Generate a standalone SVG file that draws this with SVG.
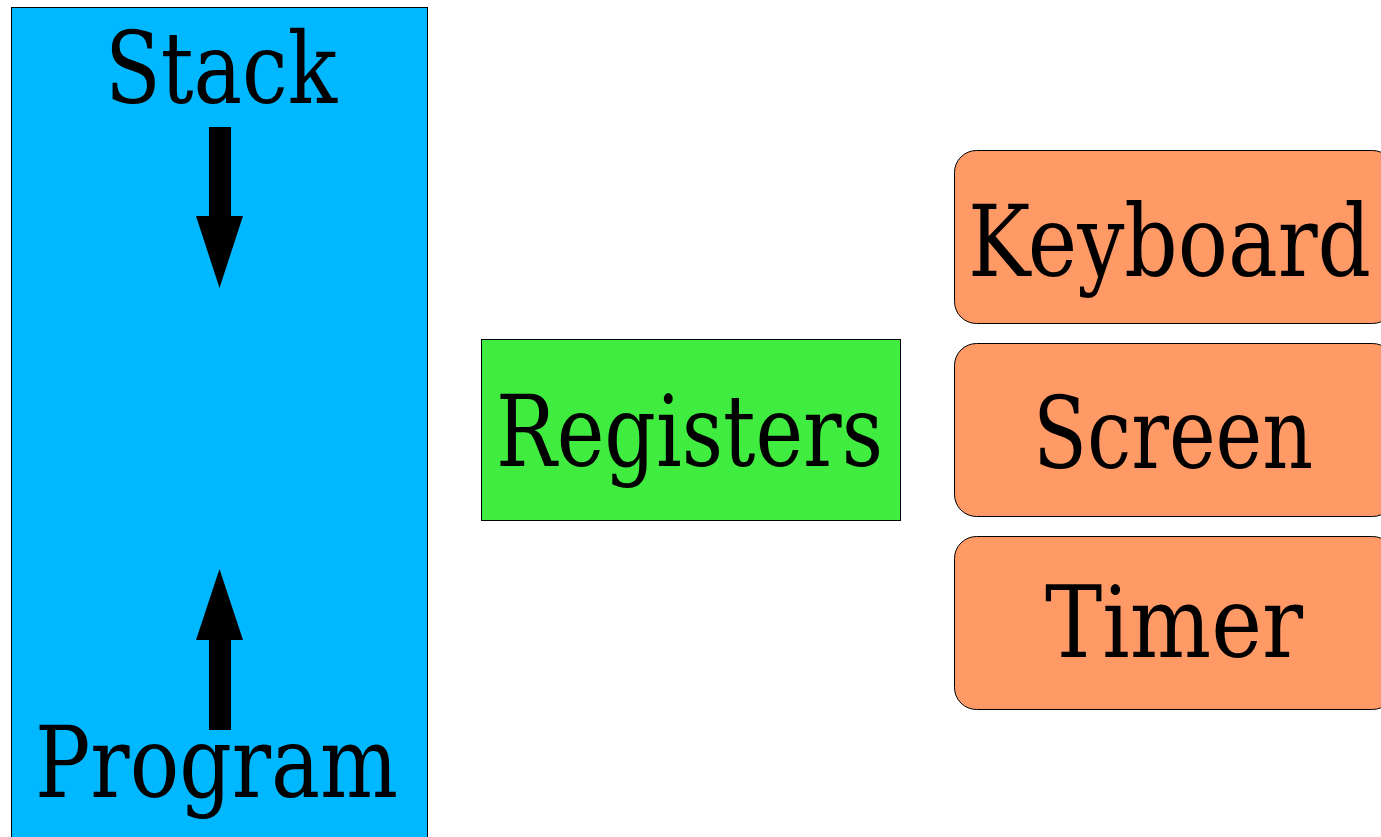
<svg xmlns="http://www.w3.org/2000/svg" width="1381" height="837" viewBox="0 0 1381 837">
<style>
.t{font-family:"DejaVu Serif Condensed","DejaVu Serif","Liberation Serif",serif;font-size:100px;fill:#000;text-anchor:middle}
.dev{fill:#FF9966;stroke:#000;stroke-width:1}
.arr{fill:#000;stroke:none}
</style>
<rect width="1381" height="837" fill="#fff"/>
<g id="memory">
<rect x="11.5" y="7.5" width="416" height="840" fill="#00B8FF" stroke="#000" stroke-width="1"/>
<text class="t" x="221" y="103" textLength="232" lengthAdjust="spacingAndGlyphs">Stack</text>
<text class="t" x="216.5" y="797" textLength="363" lengthAdjust="spacingAndGlyphs">Program</text>
</g>
<g id="connectors">
<path class="arr" d="M209,127 H231 V216 H243 L219.5,288 L196,216 H209 Z"/>
<path class="arr" d="M209,730 H231 V640 H243 L219.5,569 L196,640 H209 Z"/>
</g>
<g id="registers">
<rect x="481.5" y="339.5" width="419" height="181" fill="#3FEC3F" stroke="#000" stroke-width="1"/>
<text class="t" x="689.5" y="466" textLength="387" lengthAdjust="spacingAndGlyphs">Registers</text>
</g>
<g id="keyboard">
<rect class="dev" x="954.5" y="150.5" width="440" height="173" rx="22" ry="22"/>
<text class="t" x="1169.5" y="276" textLength="403" lengthAdjust="spacingAndGlyphs">Keyboard</text>
</g>
<g id="screen">
<rect class="dev" x="954.5" y="343.5" width="440" height="173" rx="22" ry="22"/>
<text class="t" x="1173" y="468" textLength="280" lengthAdjust="spacingAndGlyphs">Screen</text>
</g>
<g id="timer">
<rect class="dev" x="954.5" y="536.5" width="440" height="173" rx="22" ry="22"/>
<text class="t" x="1174" y="657" textLength="258" lengthAdjust="spacingAndGlyphs">Timer</text>
</g>
</svg>
